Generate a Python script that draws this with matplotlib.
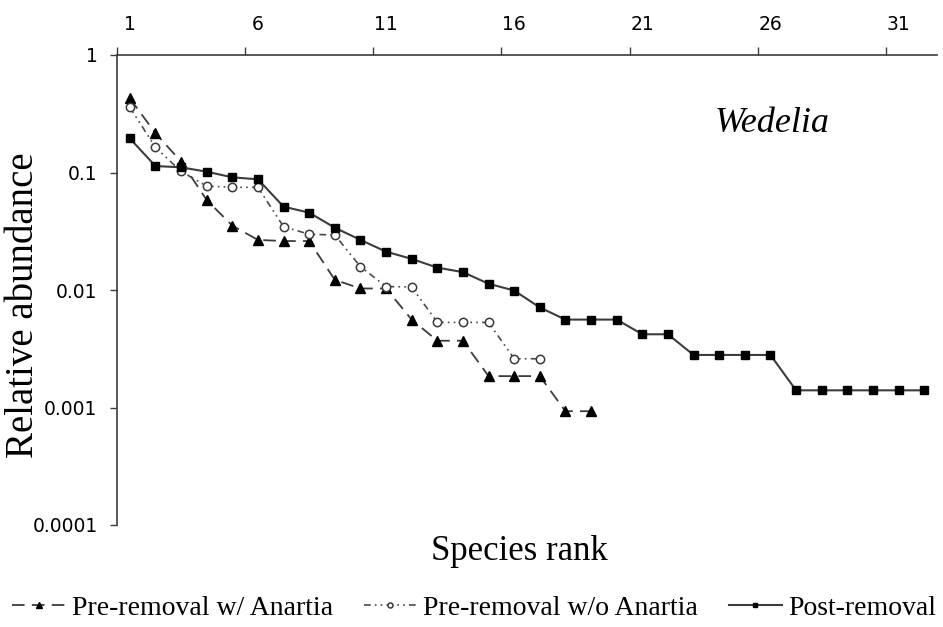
import numpy as np
import matplotlib
matplotlib.use("Agg")
from matplotlib import pyplot as plt
from matplotlib.ticker import FixedLocator, NullFormatter, FixedFormatter

# relative abundance by species rank
pre_with = [0.428, 0.216, 0.124, 0.0583, 0.0353, 0.0267, 0.0261, 0.0261,
            0.0122, 0.0103, 0.0103, 0.0056, 0.0037, 0.0037, 0.00185,
            0.00185, 0.00185, 0.00093, 0.00093]
pre_without = [0.359, 0.164, 0.102, 0.0768, 0.0748, 0.0748, 0.0346, 0.0298,
               0.0294, 0.0158, 0.0107, 0.0106, 0.0053, 0.0053, 0.0053,
               0.0026, 0.0026]
post = [0.195, 0.1135, 0.1107, 0.1016, 0.091, 0.0875, 0.0512, 0.0455,
        0.0339, 0.0267, 0.0212, 0.0184, 0.0155, 0.0142, 0.0113, 0.0099,
        0.0071, 0.0056, 0.0056, 0.0056, 0.0042, 0.0042, 0.0028, 0.0028,
        0.0028, 0.0028, 0.0014, 0.0014, 0.0014, 0.0014, 0.0014, 0.0014]

labels = ['Pre-removal w/ Anartia', 'Pre-removal w/o Anartia', 'Post-removal']
rank_labels = [1, 6, 11, 16, 21, 26, 31]
y_ticks = [1, 0.1, 0.01, 0.001, 0.0001]
y_tick_labels = ['1', '0.1', '0.01', '0.001', '0.0001']

serif = 'Liberation Serif'
line_col = '#3c3c3c'

fig = plt.figure(figsize=(9.43, 6.27), dpi=100)
ax = fig.add_axes([117 / 943, 1 - 525 / 627, 820 / 943, 470 / 627])

x1 = np.arange(1, len(pre_with) + 1)
x2 = np.arange(1, len(pre_without) + 1)
x3 = np.arange(1, len(post) + 1)

l1, = ax.plot(x1, pre_with, color=line_col, lw=1.3, dashes=(7, 4),
              marker='^', ms=6.5, mfc='black', mec='black', label=labels[0])
l2, = ax.plot(x2, pre_without, color='#4a4a4a', lw=1.2,
              dashes=(4, 2.5, 1, 2.5, 1, 2.5),
              marker='o', ms=6, mfc='white', mec='#3a3a3a', mew=1.1,
              label=labels[1])
l3, = ax.plot(x3, post, color=line_col, lw=1.5, marker='s', ms=6,
              mfc='black', mec='black', label=labels[2])

ax.set_yscale('log')
ax.set_ylim(0.0001, 1)
ax.set_xlim(0.5, 32.5)

# y axis
ax.yaxis.set_major_locator(FixedLocator(y_ticks))
ax.yaxis.set_major_formatter(FixedFormatter(y_tick_labels))
ax.yaxis.set_minor_locator(FixedLocator([]))
ax.tick_params(axis='y', which='major', direction='out', length=5,
               width=1, color=line_col, pad=9, labelsize=13.5)

# x axis sits on top, ticks between categories
ax.xaxis.tick_top()
ax.xaxis.set_major_locator(FixedLocator(rank_labels))
ax.xaxis.set_major_formatter(FixedFormatter([str(r) for r in rank_labels]))
ax.xaxis.set_minor_locator(FixedLocator(np.arange(0.5, 31, 5)))
ax.xaxis.set_minor_formatter(NullFormatter())
ax.tick_params(axis='x', which='major', length=0, pad=15, labelsize=13.5)
ax.tick_params(axis='x', which='minor', direction='out', length=6,
               width=1, color=line_col)

for s in ['right', 'bottom']:
    ax.spines[s].set_visible(False)
for s in ['left', 'top']:
    ax.spines[s].set_color(line_col)
    ax.spines[s].set_linewidth(1.2)

fig.text(24 / 943, 1 - 305 / 627, 'Relative abundance', rotation=90,
         ha='center', va='center', family=serif, fontsize=28)
fig.text(519 / 943, 1 - 551 / 627, 'Species rank', ha='center', va='center',
         family=serif, fontsize=25)
fig.text(772 / 943, 1 - 123 / 627, 'Wedelia', ha='center', va='center',
         family=serif, style='italic', fontsize=26)

fig.legend(handles=[l1, l2, l3], loc='center',
           bbox_to_anchor=(0.503, 1 - 608 / 627), ncol=3, frameon=False,
           prop={'family': serif, 'size': 20}, handlelength=1.9,
           handletextpad=0.25, columnspacing=1.1, markerscale=0.6)

fig.savefig('out.png', dpi=100)
